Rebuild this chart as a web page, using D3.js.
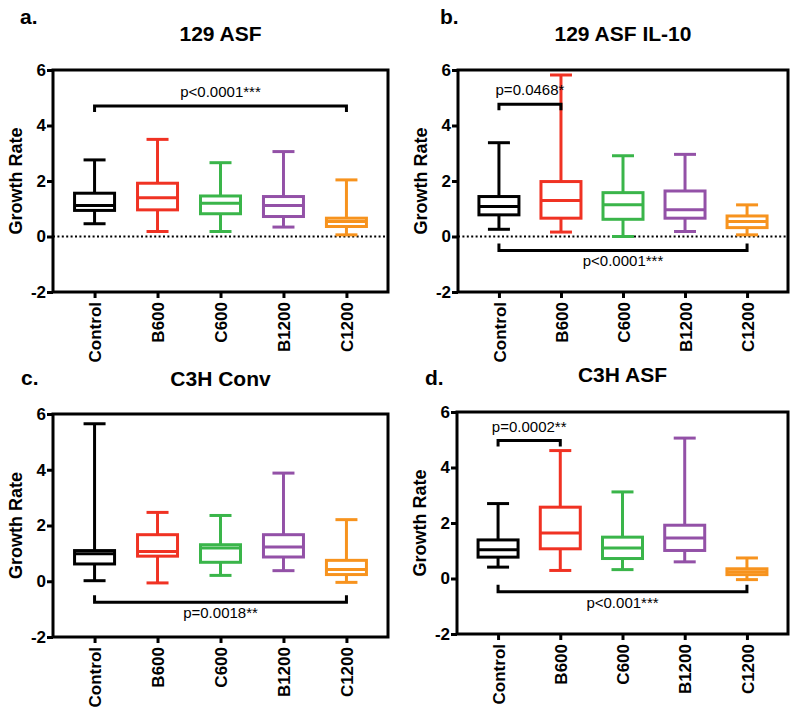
<!DOCTYPE html>
<html>
<head>
<meta charset="utf-8">
<script src="https://cdn.jsdelivr.net/npm/d3@7"></script>
<style>
  body { margin: 0; background: #fff; }
  svg text { font-family: "Liberation Sans", Arial, sans-serif; }
</style>
</head>
<body>
<script>
const W = 800, H = 713;

// groups and colours
const groups = ["Control", "B600", "C600", "B1200", "C1200"];
const colors = ["#000000", "#f03223", "#3ab54a", "#9351a7", "#f7931e"];
const yTicks = [-2, 0, 2, 4, 6];

// each row: [min, q1, median, q3, max]
const asf129 = [
    [0.46, 0.94, 1.12, 1.56, 2.76],
    [0.18, 0.96, 1.40, 1.92, 3.50],
    [0.18, 0.82, 1.20, 1.46, 2.66],
    [0.34, 0.72, 1.12, 1.44, 3.06],
    [0.06, 0.36, 0.54, 0.66, 2.04]
];
const asf129IL10 = [
    [0.26, 0.78, 1.08, 1.44, 3.38],
    [0.16, 0.66, 1.30, 1.98, 5.82],
    [0.00, 0.62, 1.14, 1.58, 2.91],
    [0.18, 0.66, 0.96, 1.64, 2.96],
    [0.06, 0.32, 0.54, 0.74, 1.14]
];
const c3hConv = [
    [0.02, 0.62, 0.99, 1.10, 5.65],
    [-0.06, 0.90, 1.07, 1.67, 2.47],
    [0.21, 0.68, 1.19, 1.31, 2.36],
    [0.38, 0.87, 1.23, 1.67, 3.88],
    [-0.04, 0.24, 0.42, 0.75, 2.21]
];
const c3hAsf = [
    [0.41, 0.77, 1.04, 1.39, 2.70],
    [0.29, 1.07, 1.64, 2.57, 4.61],
    [0.32, 0.72, 1.10, 1.49, 3.12],
    [0.60, 1.01, 1.46, 1.92, 5.06],
    [-0.04, 0.14, 0.24, 0.35, 0.74]
];

// significance brackets: [from, to, y level, label, side]
const sigA = [["Control", "C1200", 4.7, "p<0.0001***", "above"]];
const sigB = [["Control", "B600", 4.77, "p=0.0468*", "above"],
              ["Control", "C1200", -0.5, "p<0.0001***", "below"]];
const sigC = [["Control", "C1200", -0.75, "p=0.0018**", "below"]];
const sigD = [["Control", "B600", 4.97, "p=0.0002**", "above"],
              ["Control", "C1200", -0.48, "p<0.001***", "below"]];

const panels = [
    {tag: "a.", title: "129 ASF", data: asf129, sig: sigA, zero: true,
     left: 53, top: 70, right: 388, bottom: 292, titleY: 41, tagX: 20, tagY: 24},
    {tag: "b.", title: "129 ASF IL-10", data: asf129IL10, sig: sigB, zero: true,
     left: 458, top: 70, right: 788, bottom: 292, titleY: 41, tagX: 440, tagY: 24},
    {tag: "c.", title: "C3H Conv", data: c3hConv, sig: sigC, zero: false,
     left: 53, top: 414, right: 388, bottom: 637, titleY: 386, tagX: 21, tagY: 385},
    {tag: "d.", title: "C3H ASF", data: c3hAsf, sig: sigD, zero: false,
     left: 457, top: 412, right: 788, bottom: 634, titleY: 382, tagX: 425, tagY: 385}
];

const svg = d3.select("body").append("svg").attr("width", W).attr("height", H);

const lw = 3;
const boxW = 40;
const capW = 22;

panels.forEach(p => {
    const g = svg.append("g");
    const x = d3.scalePoint().domain(groups).range([p.left, p.right]).padding(0.66);
    const y = d3.scaleLinear().domain([-2, 6]).range([p.bottom, p.top]);

    // panel letter and title
    g.append("text").attr("x", p.tagX).attr("y", p.tagY)
        .attr("font-size", 21).attr("font-weight", "bold").text(p.tag);
    g.append("text").attr("x", (p.left + p.right) / 2).attr("y", p.titleY)
        .attr("text-anchor", "middle").attr("font-size", 21).attr("font-weight", "bold").text(p.title);

    // y label
    g.append("text")
        .attr("transform", `translate(${p.left - 31},${(p.top + p.bottom) / 2}) rotate(-90)`)
        .attr("text-anchor", "middle").attr("font-size", 18).attr("font-weight", "bold")
        .text("Growth Rate");

    // zero reference line
    if (p.zero) {
        g.append("line")
            .attr("x1", p.left).attr("x2", p.right)
            .attr("y1", y(0)).attr("y2", y(0))
            .attr("stroke", "#000").attr("stroke-width", 2.2)
            .attr("stroke-dasharray", "2,2.4");
    }

    // boxes
    const box = g.selectAll("g.box").data(p.data).enter().append("g").attr("class", "box")
        .attr("stroke", (d, i) => colors[i]).attr("stroke-width", lw).attr("fill", "none");
    box.append("line")
        .attr("x1", (d, i) => x(groups[i])).attr("x2", (d, i) => x(groups[i]))
        .attr("y1", d => y(d[4])).attr("y2", d => y(d[3]));
    box.append("line")
        .attr("x1", (d, i) => x(groups[i])).attr("x2", (d, i) => x(groups[i]))
        .attr("y1", d => y(d[1])).attr("y2", d => y(d[0]));
    box.append("line")
        .attr("x1", (d, i) => x(groups[i]) - capW / 2).attr("x2", (d, i) => x(groups[i]) + capW / 2)
        .attr("y1", d => y(d[4])).attr("y2", d => y(d[4]));
    box.append("line")
        .attr("x1", (d, i) => x(groups[i]) - capW / 2).attr("x2", (d, i) => x(groups[i]) + capW / 2)
        .attr("y1", d => y(d[0])).attr("y2", d => y(d[0]));
    box.append("rect")
        .attr("x", (d, i) => x(groups[i]) - boxW / 2).attr("width", boxW)
        .attr("y", d => y(d[3])).attr("height", d => y(d[1]) - y(d[3]))
        .attr("fill", "#fff");
    box.append("line")
        .attr("x1", (d, i) => x(groups[i]) - boxW / 2).attr("x2", (d, i) => x(groups[i]) + boxW / 2)
        .attr("y1", d => y(d[2])).attr("y2", d => y(d[2]));

    // significance brackets
    p.sig.forEach(s => {
        const x1 = x(s[0]), x2 = x(s[1]), yy = y(s[2]);
        const leg = s[4] === "above" ? 6 : -7;
        g.append("path")
            .attr("d", `M${x1},${yy + leg}V${yy}H${x2}V${yy + leg}`)
            .attr("fill", "none").attr("stroke", "#000").attr("stroke-width", lw);
        g.append("text")
            .attr("x", (x1 + x2) / 2)
            .attr("y", s[4] === "above" ? yy - 9 : yy + 16)
            .attr("text-anchor", "middle").attr("font-size", 15)
            .text(s[3]);
    });

    // frame
    g.append("rect")
        .attr("x", p.left).attr("y", p.top)
        .attr("width", p.right - p.left).attr("height", p.bottom - p.top)
        .attr("fill", "none").attr("stroke", "#000").attr("stroke-width", lw);

    // axes
    const ya = g.append("g").attr("transform", `translate(${p.left},0)`)
        .call(d3.axisLeft(y).tickValues(yTicks).tickFormat(d => String(d)).tickSize(6).tickPadding(1));
    const xa = g.append("g").attr("transform", `translate(0,${p.bottom})`)
        .call(d3.axisBottom(x).tickSize(6));
    [ya, xa].forEach(a => {
        a.select(".domain").remove();
        a.selectAll("line").attr("stroke", "#000").attr("stroke-width", lw);
        a.selectAll("text").attr("font-size", 17).attr("font-weight", "bold")
            .attr("fill", "#000").attr("font-family", "Liberation Sans, Arial, sans-serif");
    });
    xa.selectAll("text")
        .attr("transform", "rotate(-90)")
        .attr("y", 0).attr("x", -10).attr("dy", "0.36em")
        .attr("text-anchor", "end");
});
</script>
</body>
</html>
